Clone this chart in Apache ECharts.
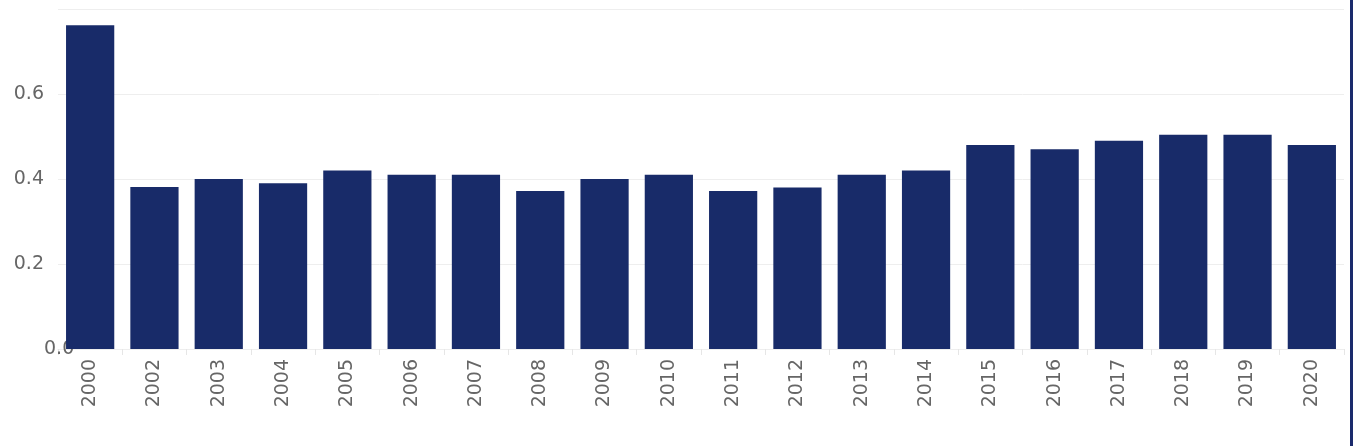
<!DOCTYPE html>
<html>
<head>
<meta charset="utf-8">
<script src="https://cdn.jsdelivr.net/npm/echarts@6/dist/echarts.min.js"></script>
<style>
html, body { margin: 0; padding: 0; background: #fff; }
#main { width: 1350px; height: 446px; border-right: 3px solid #1a2a6c; }
</style>
</head>
<body>
<div id="main"></div>
<script>
'use strict'
var years = ['2000', '2002', '2003', '2004', '2005', '2006', '2007', '2008', '2009', '2010',
             '2011', '2012', '2013', '2014', '2015', '2016', '2017', '2018', '2019', '2020'];
var values = [0.762, 0.381, 0.40, 0.39, 0.42, 0.41, 0.41, 0.372, 0.40, 0.41,
              0.372, 0.38, 0.41, 0.42, 0.48, 0.47, 0.49, 0.504, 0.504, 0.48];

var option = {
    animation: false,
    grid: { left: 58, right: 6, top: 9, bottom: 97 },
    xAxis: {
        type: 'category',
        data: years,
        axisLine: { lineStyle: { color: '#eeeeee' } },
        axisTick: { show: true, length: 6, lineStyle: { color: '#e6e6e6' } },
        axisLabel: {
            rotate: 90, color: '#666', fontSize: 19,
            fontFamily: 'DejaVu Sans', margin: 10
        }
    },
    yAxis: {
        type: 'value',
        min: 0, max: 0.8, interval: 0.2,
        axisLine: { show: false },
        axisTick: { show: false },
        splitLine: { lineStyle: { color: '#eeeeee' } },
        axisLabel: {
            color: '#666', fontSize: 19, fontFamily: 'DejaVu Sans',
            margin: 14, showMaxLabel: false,
            formatter: function (v) { return v.toFixed(1); },
            alignMinLabel: 'bottom'
        }
    },
    series: [{
        type: 'bar',
        data: values,
        barWidth: '75%',
        itemStyle: { color: '#182b69' }
    }]
};

var myChart = echarts.init(document.getElementById('main'));
myChart.setOption(option);
</script>
</body>
</html>
